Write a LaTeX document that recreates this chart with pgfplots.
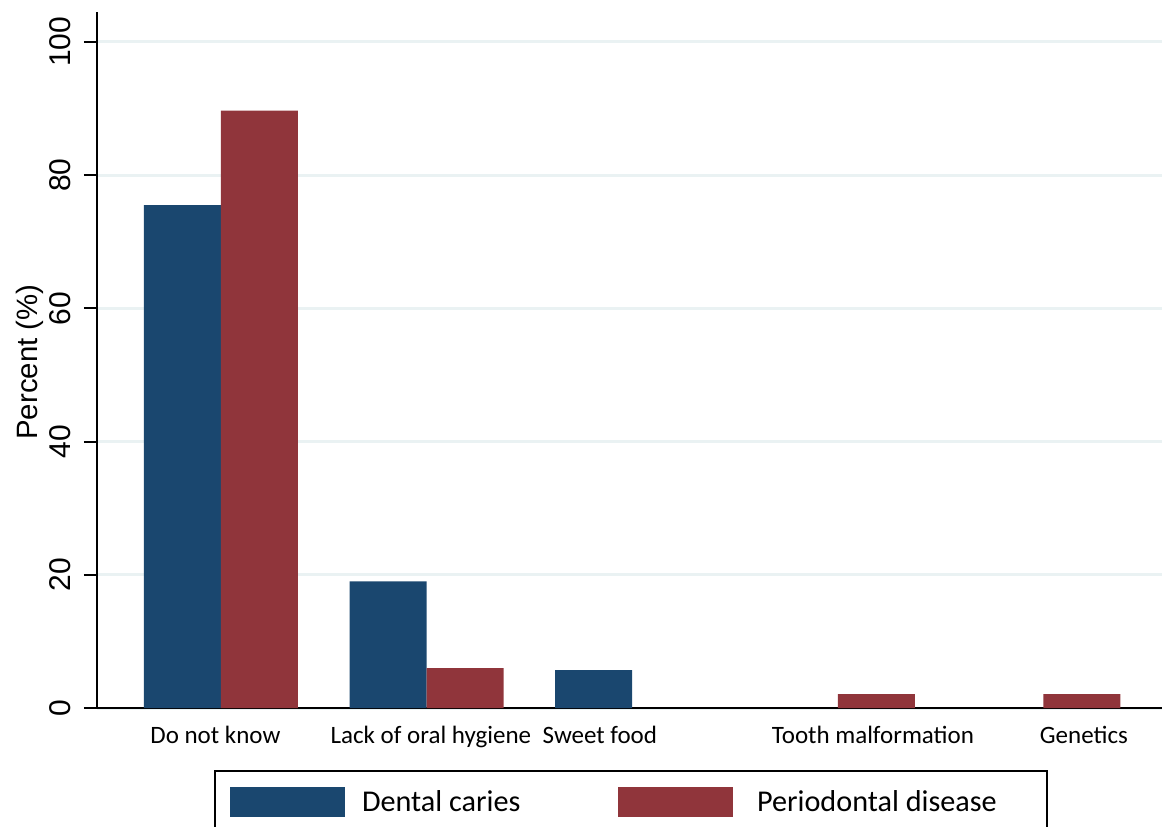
\documentclass[border=0pt]{standalone}
\usepackage{pgfplots}
\pgfplotsset{compat=1.18}
\usepackage{fontspec}
\setmainfont{Carlito}
\newfontfamily\arial{Liberation Sans}
\definecolor{stblue}{RGB}{26,71,111}
\definecolor{stred}{RGB}{144,53,59}
\definecolor{stgrid}{RGB}{234,242,243}
\begin{document}
\begin{tikzpicture}
\begin{axis}[
  at={(0,0)}, anchor=south west,
  scale only axis,
  width=532.5pt, height=348pt,
  xmin=-0.603, xmax=4.577,
  ymin=0, ymax=104.5,
  ybar, bar width=38.5pt,
  axis x line*=bottom, axis y line*=left,
  axis line style={line width=1pt, black},
  separate axis lines,
  x axis line style={-}, y axis line style={-},
  xtick={-0.027,1.021,1.843,3.171,4.197},
  xticklabels={Do not know,Lack of oral hygiene,Sweet food,Tooth malformation,Genetics},
  x tick label style={font=\fontsize{12.5}{14}\selectfont, anchor=base, yshift=-11pt, inner sep=0pt},
  x tick style={draw=none},
  ytick={0,20,40,60,80,100},
  ymajorgrids,
  major grid style={stgrid, line width=1.5pt},
  tick align=outside,
  y tick style={line width=1pt, black},
  major tick length=6.5pt,
  /pgf/number format/assume math mode=true,
  y tick label style={font=\arial\fontsize{15}{17}\selectfont, xshift=-6.5pt, rotate=90, anchor=south, inner sep=0pt},
  ylabel={Percent (\%)},
  ylabel style={font=\arial\fontsize{14.7}{17}\selectfont, at={(axis description cs:-0.063,0.497)}, anchor=center},
  legend columns=2,
  legend cell align=left,
  legend style={at={(axis description cs:0.10986,-0.0891)}, anchor=north west,
    draw=black, line width=1pt, inner xsep=7.5pt, inner ysep=8pt,
    font=\fontsize{15.1}{18}\selectfont,
    nodes={inner xsep=0pt, inner ysep=0pt},
    /tikz/every odd column/.append style={column sep=8.5pt},
    /tikz/every even column/.append style={column sep=48.8pt}},
  legend image code/.code={\fill[#1] (0pt,-7.5pt) rectangle (57.5pt,7.5pt);},
]
\addplot[fill=stblue, draw=none, bar shift=-19.25pt] coordinates {(0,75.5) (1,19.0) (2,5.7)};
\addplot[fill=stred, draw=none, bar shift=19.25pt] coordinates {(0,89.7) (1,6.0) (3,2.1) (4,2.1)};
\legend{Dental caries, \kern3.5pt Periodontal disease\rule{17.5pt}{0pt}}
\end{axis}
\pgfresetboundingbox
\useasboundingbox (-48.5pt,-59pt) rectangle (533pt,354pt);
\end{tikzpicture}
\end{document}
